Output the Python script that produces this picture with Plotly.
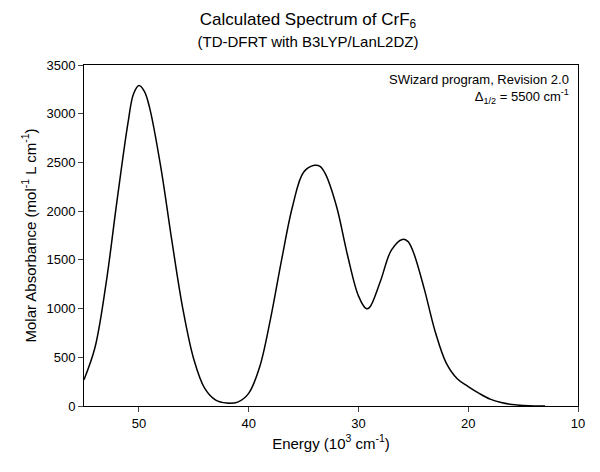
import plotly.graph_objects as go

energy = [55,54,53,52,51,50.5,50,49.5,49,48,47,46,45,44,43,42,41,40,39,38,37,36,35,34,33.5,33,32,31,30,29.3,29,28,27,26,25.5,25,24,23,22,21,20,19,18,17,16,15,14,13]
absorb = [270,600,1250,2100,2900,3200,3290,3230,3050,2450,1700,1000,480,180,60,30,40,130,400,900,1500,2050,2400,2470,2460,2380,2050,1550,1130,1000,1010,1280,1600,1710,1690,1580,1200,760,440,280,200,130,70,35,15,5,0,0]

fig = go.Figure(go.Scatter(x=energy, y=absorb, mode="lines",
                           line=dict(color="black", width=1.5, shape="spline", smoothing=1.0)))
font = "Liberation Sans, Arial, sans-serif"
fig.update_layout(
    width=600, height=472, plot_bgcolor="white", paper_bgcolor="white",
    margin=dict(l=76, r=30, t=57, b=74), showlegend=False,
    font=dict(family=font, color="black", size=13),
    title=dict(text="Calculated Spectrum of CrF<sub>6</sub><br><span style='font-size:15px'>(TD-DFRT with B3LYP/LanL2DZ)</span>",
               x=0.5, xanchor="center", y=0.965, yanchor="top", font=dict(size=17)),
    xaxis=dict(range=[55,10], tickvals=[50,40,30,20,10], ticks="outside", ticklen=5,
               showline=True, linecolor="black", mirror=True, showgrid=False, zeroline=False,
               title=dict(text="Energy (10<sup>3</sup> cm<sup>-1</sup>)", font=dict(size=15), standoff=8)),
    yaxis=dict(range=[0,3500], dtick=500, ticks="outside", ticklen=5,
               showline=True, linecolor="black", mirror=True, showgrid=False, zeroline=False,
               title=dict(text="Molar Absorbance (mol<sup>-1</sup> L cm<sup>-1</sup>)", font=dict(size=15), standoff=6)),
    annotations=[dict(xref="paper", yref="paper", x=0.985, y=0.985, xanchor="right", yanchor="top",
                      showarrow=False, align="right", font=dict(size=13),
                      text="SWizard program, Revision 2.0<br>Δ<sub>1/2</sub> = 5500 cm<sup>-1</sup>")]
)
fig.write_html("out.html")
